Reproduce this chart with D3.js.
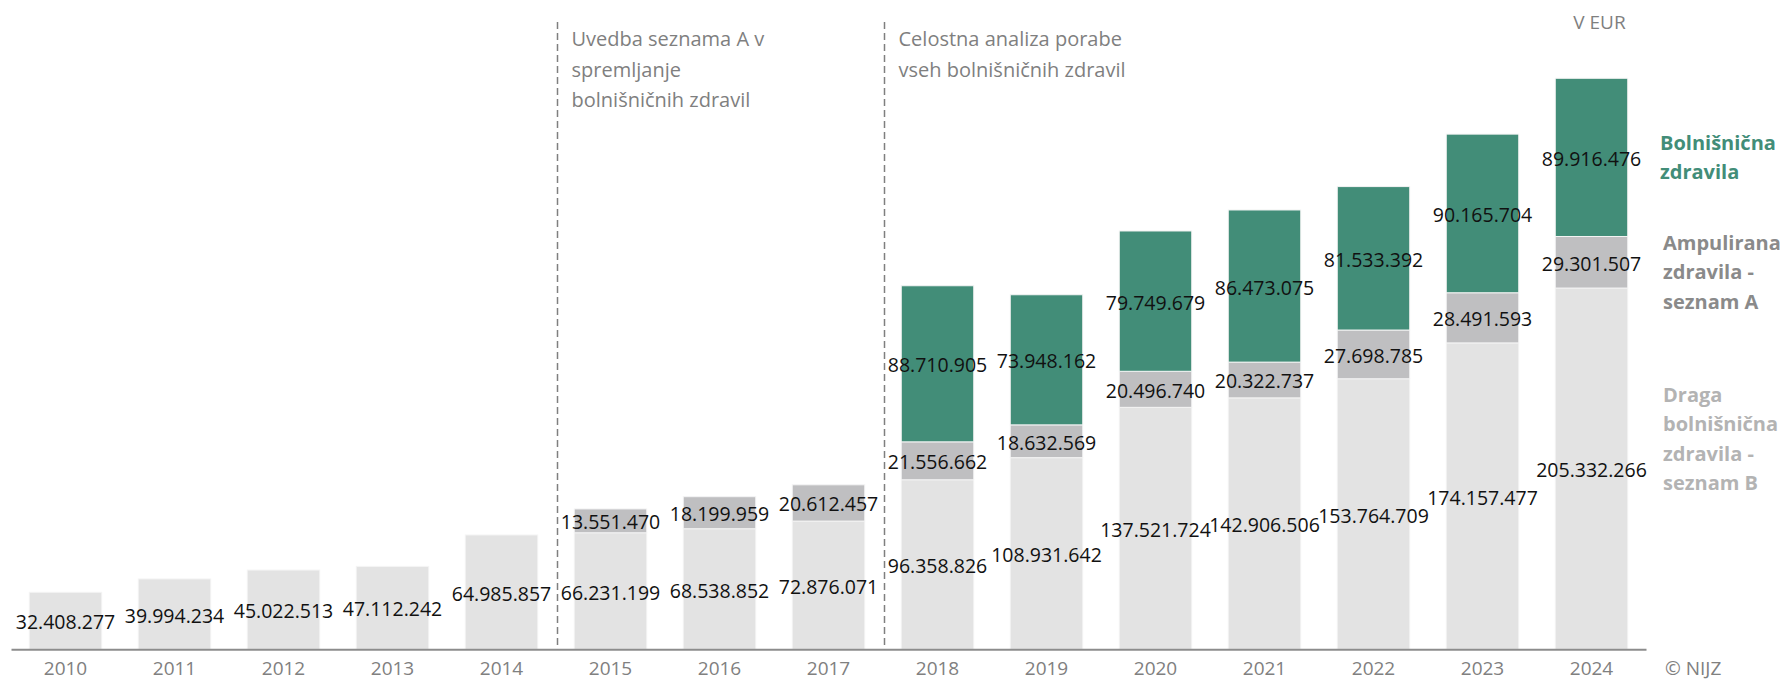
<!DOCTYPE html>
<html>
<head>
<meta charset="utf-8">
<script src="https://cdn.jsdelivr.net/npm/d3@7"></script>
<style>
  body { margin: 0; background: #fff; }
  svg text { font-family: "Open Sans", sans-serif; }
</style>
</head>
<body>
<div id="vis"></div>
<script>
var width = 1791;
var height = 680;

// data
var years = ["2010", "2011", "2012", "2013", "2014", "2015", "2016", "2017",
  "2018", "2019", "2020", "2021", "2022", "2023", "2024"];
var seznam_b = [32408277, 39994234, 45022513, 47112242, 64985857, 66231199, 68538852, 72876071,
  96358826, 108931642, 137521724, 142906506, 153764709, 174157477, 205332266];
var seznam_a = [0, 0, 0, 0, 0, 13551470, 18199959, 20612457,
  21556662, 18632569, 20496740, 20322737, 27698785, 28491593, 29301507];
var bolnisnicna = [0, 0, 0, 0, 0, 0, 0, 0,
  88710905, 73948162, 79749679, 86473075, 81533392, 90165704, 89916476];

var series_keys = ["seznam_b", "seznam_a", "bolnisnicna"];
var legend_lines = {
  "bolnisnicna": ["Bolnišnična", "zdravila"],
  "seznam_a": ["Ampulirana", "zdravila -", "seznam  A"],
  "seznam_b": ["Draga", "bolnišnična", "zdravila -", "seznam B"]
};
var annotations = [
  {after: "2014", lines: ["Uvedba seznama A v", "spremljanje", "bolnišničnih  zdravil"]},
  {after: "2017", lines: ["Celostna analiza porabe", "vseh bolnišničnih  zdravil"]}
];
var unit_label = "V EUR";
var source_label = "© NIJZ";

var colors = {"seznam_b": "#e3e3e3", "seznam_a": "#bfbfc1", "bolnisnicna": "#428d78"};
var legend_colors = {"seznam_b": "#b3b3b3", "seznam_a": "#8a8a8a", "bolnisnicna": "#428d78"};

var margin = {left: 11, right: 145, baseline: 649.3};

var table = years.map(function(y, i) {
  return {year: y, seznam_b: seznam_b[i], seznam_a: seznam_a[i], bolnisnicna: bolnisnicna[i]};
});
var stacked = d3.stack().keys(series_keys)(table);

var fmt = d3.formatLocale({decimal: ",", thousands: ".", grouping: [3], currency: ["", ""]}).format(",d");

var x_scale = d3.scaleBand()
  .domain(years)
  .range([margin.left, width - margin.right])
  .paddingInner(0.335)
  .paddingOuter(0.1675);

var y_scale = d3.scaleLinear()
  .domain([0, 350e6])
  .range([margin.baseline, margin.baseline - 350 * 1.7594]);

var svg = d3.select("#vis").append("svg")
  .attr("width", width)
  .attr("height", height);

// bars
var layers = svg.selectAll(".layer")
  .data(stacked)
  .enter().append("g")
  .attr("class", "layer")
  .attr("fill", d => colors[d.key]);

layers.selectAll("rect")
  .data(d => d.filter(p => p[1] > p[0]))
  .enter().append("rect")
  .attr("x", d => x_scale(d.data.year))
  .attr("width", x_scale.bandwidth())
  .attr("y", d => y_scale(d[1]))
  .attr("height", d => y_scale(d[0]) - y_scale(d[1]))
  .attr("stroke", "#f4f4f4")
  .attr("stroke-width", 1);

// value labels, centred in each segment
layers.selectAll("text")
  .data(d => d.filter(p => p[1] > p[0]))
  .enter().append("text")
  .attr("x", d => x_scale(d.data.year) + x_scale.bandwidth() / 2)
  .attr("y", d => (y_scale(d[0]) + y_scale(d[1])) / 2 + 1)
  .attr("text-anchor", "middle")
  .attr("dominant-baseline", "central")
  .attr("font-size", 19.5)
  .attr("fill", "#111")
  .text(d => fmt(d[1] - d[0]));

// x axis
var x_axis = svg.append("g")
  .attr("transform", "translate(0," + margin.baseline + ")")
  .call(d3.axisBottom(x_scale).tickSize(0).tickPadding(12));
x_axis.select(".domain").attr("stroke", "#8c8c8c").attr("stroke-width", 2);
x_axis.selectAll(".tick text")
  .attr("font-size", 19)
  .attr("font-family", "Open Sans, sans-serif")
  .attr("fill", "#808080");

// dashed dividers and notes
annotations.forEach(function(a) {
  var i = years.indexOf(a.after);
  var xs = (x_scale(years[i]) + x_scale(years[i + 1]) + x_scale.bandwidth()) / 2 + 1.5;
  svg.append("line")
    .attr("x1", xs).attr("x2", xs)
    .attr("y1", 22).attr("y2", margin.baseline)
    .attr("stroke", "#7f7f7f")
    .attr("stroke-width", 1.5)
    .attr("stroke-dasharray", "7,4");
  var t = svg.append("text")
    .attr("x", xs + 14)
    .attr("y", 46)
    .attr("font-size", 20)
    .attr("fill", "#7f7f7f");
  t.selectAll("tspan")
    .data(a.lines)
    .enter().append("tspan")
    .attr("x", xs + 14)
    .attr("dy", (d, j) => j === 0 ? 0 : 30.5)
    .text(d => d);
});

// unit label above last bar
svg.append("text")
  .attr("x", x_scale(years[years.length - 1]) + x_scale.bandwidth() / 2 + 8)
  .attr("y", 29)
  .attr("text-anchor", "middle")
  .attr("font-size", 19)
  .attr("fill", "#7f7f7f")
  .text(unit_label);

// source
svg.append("text")
  .attr("x", width - margin.right + 19)
  .attr("y", 675)
  .attr("font-size", 19)
  .attr("fill", "#808080")
  .text(source_label);

// legend at right, one block per series
var legend_x = width - margin.right + 14;
var legend_top = {"bolnisnicna": 150, "seznam_a": 250, "seznam_b": 402};
series_keys.forEach(function(k) {
  var t = svg.append("text")
    .attr("x", legend_x)
    .attr("y", legend_top[k])
    .attr("font-size", 20)
    .attr("font-weight", "bold")
    .attr("fill", legend_colors[k]);
  t.selectAll("tspan")
    .data(legend_lines[k])
    .enter().append("tspan")
    .attr("x", legend_x + (k === "bolnisnicna" ? 0 : 3))
    .attr("dy", (d, j) => j === 0 ? 0 : 29.3)
    .text(d => d);
});
</script>
</body>
</html>
